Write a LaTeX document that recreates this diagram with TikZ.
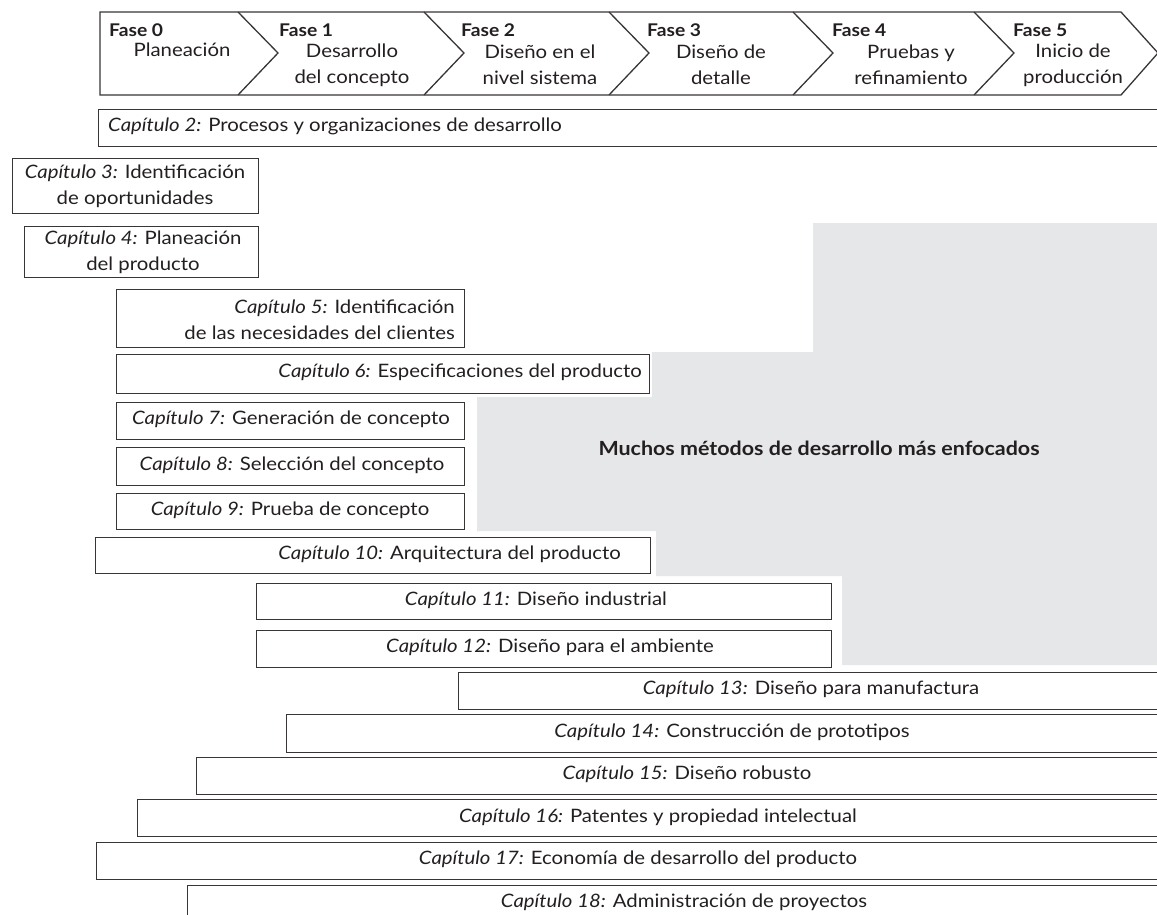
\documentclass[tikz,border=0pt]{standalone}
\usepackage{fontspec}
\setmainfont{Lato}[FakeStretch=1.1]
\definecolor{ink}{HTML}{231F20}
\definecolor{greyfill}{HTML}{E6E7E9}
\tikzset{
  box/.style={draw=ink!90, line width=1.3pt, fill=white, inner sep=0pt, anchor=north west},
  txt/.style={font=\fontsize{18.5}{26}\selectfont, text=ink, inner sep=0pt, text height=13pt, text depth=4pt},
  mtxt/.style={font=\fontsize{18.5}{26}\selectfont, text=ink, inner sep=0pt},
  fase/.style={font=\bfseries\fontsize{17.5}{18}\selectfont, text=ink, inner sep=0pt, anchor=west, text height=12pt, text depth=0pt},
  bar/.style={draw=ink!90, line width=1.3pt, line join=miter},
}
\newcommand\chbox[5]{\node[box, minimum width={(#4-#2)*1pt}, minimum height={(#5-#3)*1pt}] (#1) at (#2,#3) {};}
\begin{document}
\begin{tikzpicture}[x=1pt, y=-1pt]
\useasboundingbox (0,0) rectangle (1157,915);
\clip (0,0) rectangle (1157,915);
\fill[white] (0,0) rectangle (1157,915);
% grey region
\fill[greyfill] (813,223) -- (1165,223) -- (1165,665) -- (842,665) -- (842,576) -- (656,576) -- (656,531)
  -- (477,531) -- (477,397) -- (652,397) -- (652,352) -- (813,352) -- cycle;
\node[font=\bfseries\fontsize{19.5}{22}\selectfont, text=ink, inner sep=0pt] (many) at (819,448) {Muchos métodos de desarrollo más enfocados};
% phase bar
\draw[bar] (100,12) -- (1121,12) -- (1158,53) -- (1121,95) -- (100,95) -- cycle;
\foreach \t in {238,424,609,793,974} {\draw[bar] (\t,12) -- (\t+40,53) -- (\t,95);}
\node[fase] (f0) at (109,31) {Fase 0};
\node[fase] (f1) at (279,31) {Fase 1};
\node[fase] (f2) at (461,31) {Fase 2};
\node[fase] (f3) at (647,31) {Fase 3};
\node[fase] (f4) at (832,31) {Fase 4};
\node[fase] (f5) at (1013,31) {Fase 5};
\node[txt] (p0) at (182,52) {Planeación};
\node[mtxt, align=center] (p1) at (352,65) {Desarrollo\\del concepto};
\node[mtxt, align=center] (p2) at (540,65) {Diseño en el\\nivel sistema};
\node[mtxt, align=center] (p3) at (721,65) {Diseño de\\detalle};
\node[mtxt, align=center] (p4) at (911,65) {Pruebas y\\refinamiento};
\node[mtxt, align=center] (p5) at (1073,65) {Inicio de\\producción};
% chapter boxes
\chbox{c2}{98}{109}{1175}{146}
\node[txt, anchor=west] (t2) at (108,127) {\textit{Capítulo 2:} Procesos y organizaciones de desarrollo};
\chbox{c3}{12}{158}{258}{213}
\node[mtxt, align=center] (t3) at (135,186) {\textit{Capítulo 3:} Identificación\\de oportunidades};
\chbox{c4}{24}{226}{258}{277}
\node[mtxt, align=center] (t4) at (143,252.5) {\textit{Capítulo 4:} Planeación\\del producto};
\chbox{c5}{116}{289}{464}{347}
\node[mtxt, align=right, anchor=east] (t5) at (455,320) {\textit{Capítulo 5:} Identificación\\de las necesidades del clientes};
\chbox{c6}{116}{354}{649}{393}
\node[txt, anchor=east] (t6) at (642,373) {\textit{Capítulo 6:} Especificaciones del producto};
\chbox{c7}{116}{402}{464}{439}
\node[txt] (t7) at (291,420) {\textit{Capítulo 7:} Generación de concepto};
\chbox{c8}{116}{447}{464}{485}
\node[txt] (t8) at (292,466) {\textit{Capítulo 8:} Selección del concepto};
\chbox{c9}{116}{493}{464}{529}
\node[txt] (t9) at (290,511) {\textit{Capítulo 9:} Prueba de concepto};
\chbox{c10}{95}{537}{650}{573}
\node[txt, anchor=east] (t10) at (621,555) {\textit{Capítulo 10:} Arquitectura del producto};
\chbox{c11}{256}{583}{831}{619}
\node[txt] (t11) at (536,601) {\textit{Capítulo 11:} Diseño industrial};
\chbox{c12}{256}{630}{831}{667}
\node[txt] (t12) at (550,648) {\textit{Capítulo 12:} Diseño para el ambiente};
\chbox{c13}{458}{672}{1175}{709}
\node[txt] (t13) at (811,690) {\textit{Capítulo 13:} Diseño para manufactura};
\chbox{c14}{286}{714}{1175}{752}
\node[txt] (t14) at (732,733) {\textit{Capítulo 14:} Construcción de prototipos};
\chbox{c15}{196}{757}{1175}{794}
\node[txt] (t15) at (687,775) {\textit{Capítulo 15:} Diseño robusto};
\chbox{c16}{137}{799}{1175}{836}
\node[txt] (t16) at (658,818) {\textit{Capítulo 16:} Patentes y propiedad intelectual};
\chbox{c17}{96}{842}{1175}{879}
\node[txt] (t17) at (638,860) {\textit{Capítulo 17:} Economía de desarrollo del producto};
\chbox{c18}{187}{885}{1175}{935}
\node[txt] (t18) at (684,903) {\textit{Capítulo 18:} Administración de proyectos};
\end{tikzpicture}
\end{document}
